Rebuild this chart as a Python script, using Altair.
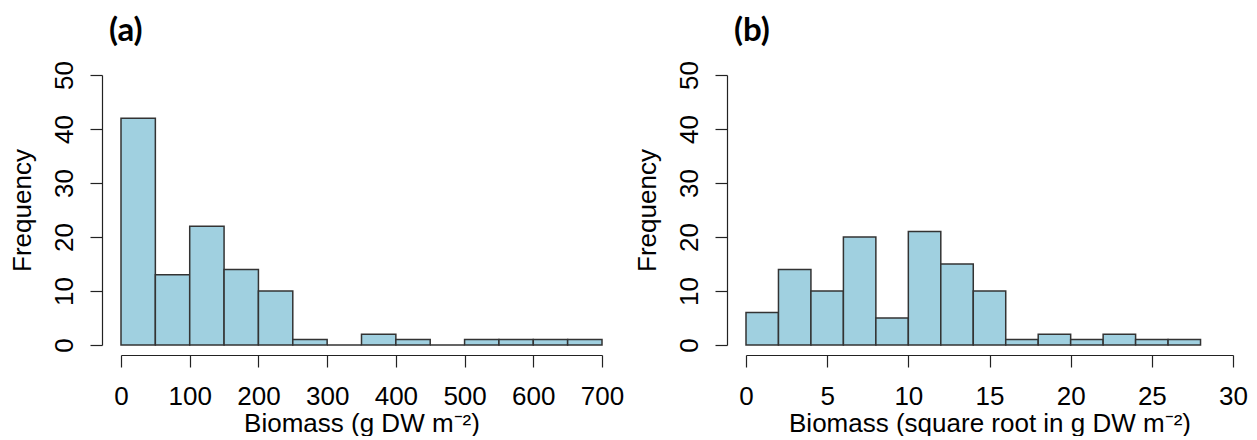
import altair as alt
import pandas as pd

# Panel (a): raw biomass, bins of width 50
a_bin_start = [0, 50, 100, 150, 200, 250, 300, 350, 400, 450, 500, 550, 600, 650]
a_counts = [42, 13, 22, 14, 10, 1, 0, 2, 1, 0, 1, 1, 1, 1]
a_width = 50

# Panel (b): square-root biomass, bins of width 2
b_bin_start = [0, 2, 4, 6, 8, 10, 12, 14, 16, 18, 20, 22, 24, 26]
b_counts = [6, 14, 10, 20, 5, 21, 15, 10, 1, 2, 1, 2, 1, 1]
b_width = 2

y_ticks = [0, 10, 20, 30, 40, 50]
a_ticks = [0, 100, 200, 300, 400, 500, 600, 700]
b_ticks = [0, 5, 10, 15, 20, 25, 30]

FILL = "#A0D0E0"
STROKE = "#333333"
FONT = "Liberation Sans"


def panel(starts, counts, width, xdom, xticks, xtitle, label, w):
    df = pd.DataFrame({
        "start": starts,
        "end": [s + width for s in starts],
        "count": counts,
    })
    return alt.Chart(df).mark_rect(
        fill=FILL, stroke=STROKE, strokeWidth=1.5
    ).encode(
        x=alt.X("start:Q",
                scale=alt.Scale(domain=xdom, nice=False, zero=False),
                axis=alt.Axis(values=xticks, title=xtitle, offset=10,
                              tickSize=12, labelPadding=16, titlePadding=1,
                              labelFlush=False, format="d")),
        x2="end:Q",
        y=alt.Y("count:Q",
                scale=alt.Scale(domain=[0, 50], nice=False),
                axis=alt.Axis(values=y_ticks, title="Frequency", offset=19,
                              tickSize=12, labelAngle=270, labelAlign="center",
                              labelBaseline="alphabetic", labelPadding=18,
                              titlePadding=16, labelFlush=False)),
        y2=alt.datum(0),
    ).properties(
        width=w, height=270,
        title=alt.TitleParams(label, anchor="start", frame="group", dx=-12,
                              offset=13, font="Lato", fontSize=33,
                              fontWeight="bold", color="black"),
    )


pa = panel(a_bin_start, a_counts, a_width, [0, 700], a_ticks,
           "Biomass (g DW m⁻²)", "(a)", 481)
pb = panel(b_bin_start, b_counts, b_width, [0, 30], b_ticks,
           "Biomass (square root in g DW m⁻²)", "(b)", 487)

chart = alt.hconcat(pa, pb, spacing=9).properties(
    padding={"left": 0, "top": 6, "right": 0, "bottom": 0},
    background="white",
).configure_view(stroke=None).configure_axis(
    grid=False,
    domainColor="#222222", tickColor="#222222", domainWidth=1.2, tickWidth=1.2,
    labelFont=FONT, titleFont=FONT, labelFontSize=26, titleFontSize=26,
    labelColor="black", titleColor="black", titleFontWeight="normal",
)

chart.save("out.html", embed_options={"renderer": "svg", "actions": False})
